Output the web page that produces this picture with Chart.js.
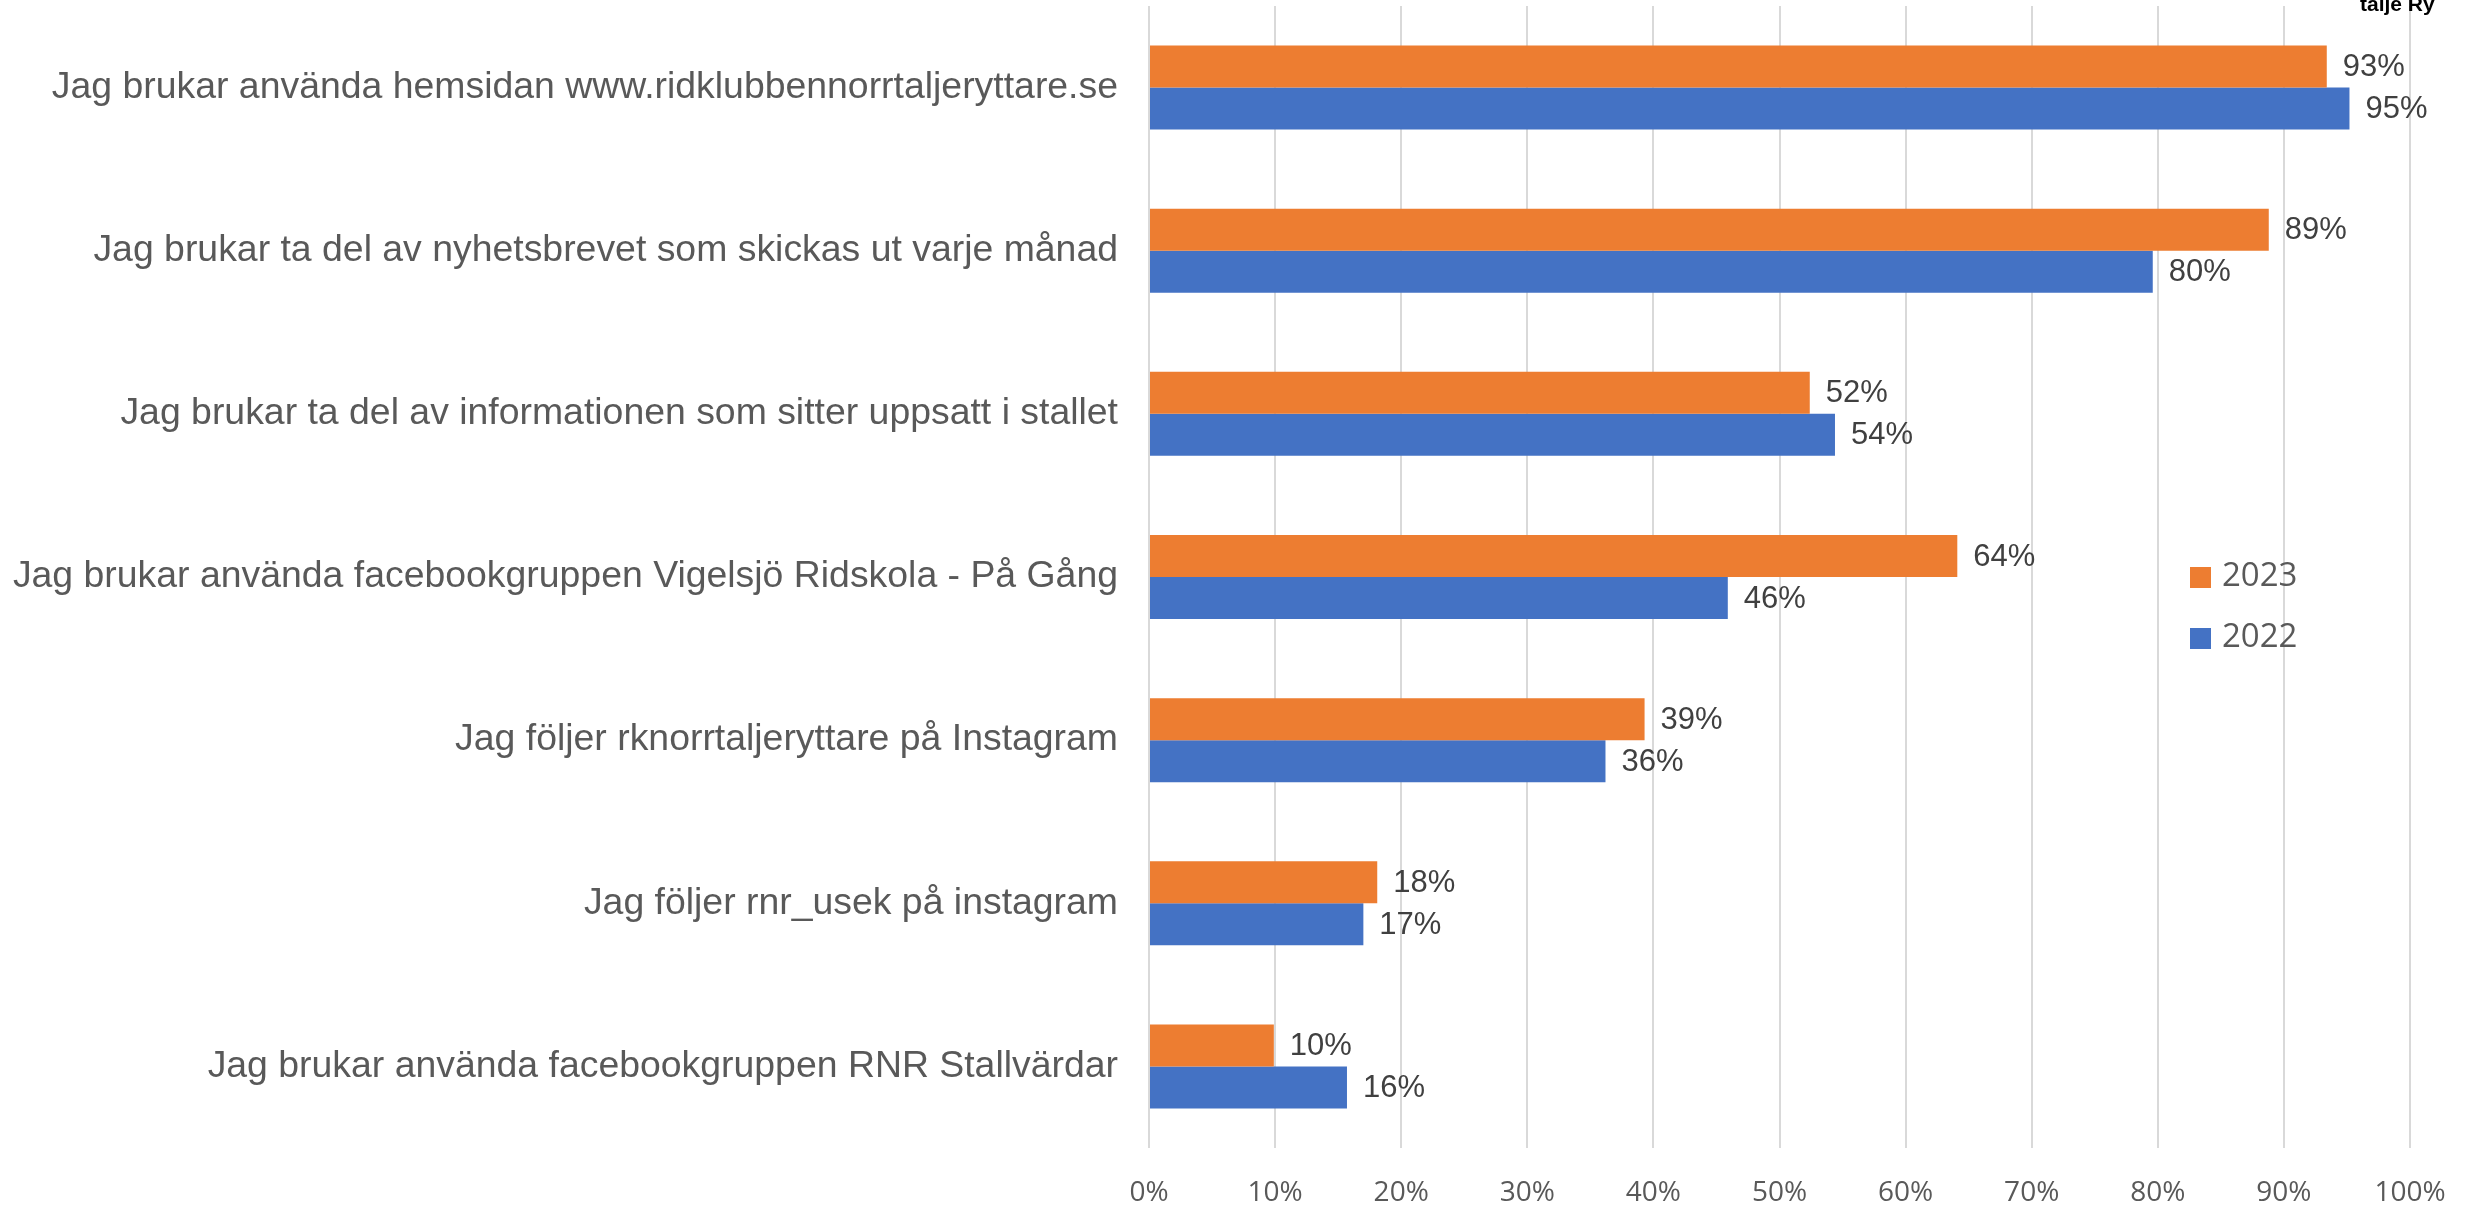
<!DOCTYPE html>
<html>
<head>
<meta charset="utf-8">
<script src="https://cdn.jsdelivr.net/npm/chart.js@4/dist/chart.umd.min.js"></script>
<style>
  html, body { margin: 0; padding: 0; background: #fff; }
  #wrap { width: 2468px; height: 1206px; }
</style>
</head>
<body>
<div id="wrap"><canvas id="myChart" width="2468" height="1206"></canvas></div>
<script>
const categories = [
  'Jag brukar använda hemsidan www.ridklubbennorrtaljeryttare.se',
  'Jag brukar ta del av nyhetsbrevet som skickas ut varje månad',
  'Jag brukar ta del av informationen som sitter uppsatt i stallet',
  'Jag brukar använda facebookgruppen Vigelsjö Ridskola - På Gång',
  'Jag följer rknorrtaljeryttare på Instagram',
  'Jag följer rnr_usek på instagram',
  'Jag brukar använda facebookgruppen RNR Stallvärdar'
];
const values2023 = [0.934, 0.888, 0.524, 0.641, 0.393, 0.181, 0.099];
const values2022 = [0.952, 0.796, 0.544, 0.459, 0.362, 0.170, 0.157];
const seriesNames = ['2023', '2022'];
const xTicks = [0, 0.1, 0.2, 0.3, 0.4, 0.5, 0.6, 0.7, 0.8, 0.9, 1];

// percent labels at the end of each bar
const barLabels = {
  id: 'barLabels',
  afterDatasetsDraw(chart) {
    const c = chart.ctx;
    c.save();
    c.font = '31px "Liberation Sans", Arial, sans-serif';
    c.fillStyle = '#404040';
    c.textAlign = 'left';
    c.textBaseline = 'middle';
    chart.data.datasets.forEach((ds, i) => {
      chart.getDatasetMeta(i).data.forEach((bar, j) => {
        c.fillText(Math.round(ds.data[j] * 100) + '%', bar.x + 16, bar.y + 1);
      });
    });
    c.restore();
  }
};

// legend drawn inside the plot, like the original
const insideLegend = {
  id: 'insideLegend',
  afterDraw(chart) {
    const c = chart.ctx;
    c.save();
    c.font = '33px "Open Sans", "Liberation Sans", sans-serif';
    c.textBaseline = 'middle';
    chart.data.datasets.forEach((ds, i) => {
      const y = 577 + i * 61;
      c.fillStyle = ds.backgroundColor;
      c.fillRect(2190, y - 10, 21, 21);
      c.fillStyle = '#595959';
      c.fillText(ds.label, 2222, y);
    });
    // cut-off title fragment in the top right corner
    c.font = 'bold 21px "Liberation Sans", Arial, sans-serif';
    c.fillStyle = '#000';
    c.textBaseline = 'alphabetic';
    c.fillText('talje Ry', 2360, 11);
    c.restore();
  }
};

new Chart(document.getElementById('myChart'), {
  type: 'bar',
  data: {
    labels: categories,
    datasets: [
      { label: seriesNames[0], data: values2023, backgroundColor: '#ED7D31' },
      { label: seriesNames[1], data: values2022, backgroundColor: '#4472C4' }
    ]
  },
  options: {
    indexAxis: 'y',
    responsive: false,
    animation: false,
    devicePixelRatio: 1,
    layout: { padding: { top: 6, right: 58, left: 0, bottom: 0 } },
    datasets: { bar: { categoryPercentage: 0.515, barPercentage: 1 } },
    plugins: { legend: { display: false }, tooltip: { enabled: false } },
    scales: {
      x: {
        min: 0,
        max: 1,
        afterBuildTicks(scale) { scale.ticks = xTicks.map(v => ({ value: v })); },
        afterFit(scale) {
          scale.height = 58;
          scale.paddingLeft = 0;
          scale.paddingRight = 0;
        },
        grid: { color: '#D9D9D9', lineWidth: 2, drawTicks: false },
        border: { display: false },
        ticks: {
          color: '#595959',
          padding: 28,
          font: { family: '"Open Sans", "Liberation Sans", sans-serif', size: 28 },
          callback: v => Math.round(v * 100) + '%'
        }
      },
      y: {
        afterFit(scale) {
          scale.width = 1149;
          scale.paddingTop = 0;
          scale.paddingBottom = 0;
        },
        grid: { display: false },
        border: { display: false },
        ticks: {
          color: '#595959',
          padding: 23,
          font: { family: '"Liberation Sans", Arial, sans-serif', size: 37.4 }
        }
      }
    }
  },
  plugins: [barLabels, insideLegend]
});
</script>
</body>
</html>
